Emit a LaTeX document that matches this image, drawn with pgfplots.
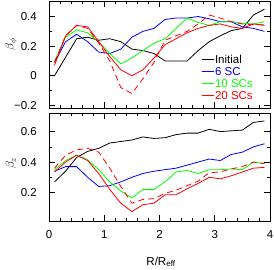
\documentclass[border=0pt]{standalone}
\usepackage{pgfplots}
\pgfplotsset{compat=1.18}
\usepackage{fontspec}
\setmainfont{Liberation Sans}
\newcommand{\lf}{\fontsize{11.5}{12}\selectfont}
\pgfplotsset{
  myax/.style={
    scale only axis, width=221pt, xmin=0, xmax=4,
    anchor=south west,
    xtick={0,1,2,3,4}, minor x tick num=4, minor y tick num=1,
    major tick length=6pt, minor tick length=3pt,
    tick align=inside, tick style={black, line width=0.6pt},
    axis line style={line width=0.8pt},
    /pgf/number format/assume math mode=true,
    tick label style={font=\lf},
    yticklabel style={anchor=east, inner sep=0pt, xshift=-12pt},
    xticklabel style={anchor=north, inner sep=0pt, yshift=-8.5pt},
    label style={font=\lf},
    every axis plot/.append style={line width=0.8pt},
  }
}
\definecolor{cgreen}{RGB}{0,255,0}
\begin{document}
\begin{tikzpicture}
\path[use as bounding box] (0pt,0pt) rectangle (274pt,270pt);
\begin{axis}[myax, at={(49pt,161.7pt)}, height=107.3pt,
  ymin=-0.22, ymax=0.505,
  ytick={-0.2,0,0.2,0.4}, yticklabels={−0.2,0,0.2,0.4},
  xticklabels={},
  ylabel={$\beta_\phi$},
  ylabel style={at={(axis description cs:-0.172,0.6)}, anchor=center},
  legend style={draw=none, fill=none, inner sep=0pt,
    at={(axis description cs:0.688,0.506)}, anchor=north west,
    font=\lf, row sep=1.7pt,
    nodes={inner sep=1pt, text height=8.3pt, text depth=0pt}},
  legend cell align=left,
  legend image code/.code={\draw[#1] (0pt,0pt) -- (12pt,0pt);},
]
\addplot[black] coordinates {(0.02,0.0)(0.1,0.0)(0.3,0.125)(0.5,0.25)(0.7,0.26)(0.9,0.24)(1.1,0.25)(1.3,0.23)(1.5,0.18)(1.7,0.17)(1.9,0.15)(2.1,0.10)(2.3,0.10)(2.5,0.10)(2.7,0.17)(2.9,0.23)(3.1,0.27)(3.3,0.305)(3.5,0.32)(3.7,0.41)(3.9,0.45)};
\addlegendentry{Initial}
\addplot[blue] coordinates {(0.1,0.09)(0.3,0.23)(0.5,0.28)(0.7,0.23)(0.9,0.16)(1.1,0.15)(1.3,0.18)(1.5,0.26)(1.7,0.30)(1.9,0.32)(2.1,0.38)(2.3,0.39)(2.5,0.39)(2.7,0.40)(2.9,0.385)(3.1,0.365)(3.3,0.365)(3.5,0.33)(3.7,0.32)(3.9,0.30)};
\addlegendentry{\textcolor{blue}{6 SC}}
\addplot[cgreen] coordinates {(0.1,0.10)(0.3,0.26)(0.5,0.31)(0.7,0.29)(0.9,0.23)(1.1,0.15)(1.3,0.08)(1.5,0.12)(1.7,0.17)(1.9,0.22)(2.1,0.25)(2.3,0.32)(2.5,0.39)(2.7,0.36)(2.9,0.34)(3.1,0.365)(3.3,0.365)(3.5,0.355)(3.7,0.35)(3.9,0.365)};
\addlegendentry{\textcolor{cgreen}{10 SCs}}
\addplot[red] coordinates {(0.1,0.07)(0.3,0.27)(0.5,0.34)(0.7,0.33)(0.9,0.23)(1.1,0.13)(1.3,0.04)(1.5,0.00)(1.7,0.04)(1.9,0.12)(2.1,0.21)(2.3,0.25)(2.5,0.29)(2.7,0.32)(2.9,0.34)(3.1,0.35)(3.3,0.33)(3.5,0.32)(3.7,0.35)(3.9,0.34)};
\addlegendentry{\textcolor{red}{20 SCs}}
\addplot[red, dash pattern=on 6pt off 4pt] coordinates {(0.1,0.09)(0.3,0.27)(0.5,0.34)(0.7,0.32)(0.9,0.22)(1.1,0.10)(1.3,-0.08)(1.5,-0.12)(1.7,-0.02)(1.9,0.09)(2.1,0.24)(2.3,0.27)(2.5,0.30)(2.7,0.35)(2.9,0.41)(3.1,0.39)(3.3,0.365)(3.5,0.35)(3.7,0.345)(3.9,0.345)};
\end{axis}
\begin{axis}[myax, at={(49pt,48.5pt)}, height=108.2pt,
  ymin=0.01, ymax=0.72,
  ytick={0.2,0.4,0.6},
  xticklabels={0,1,2,3,4},
  ylabel={$\beta_z$},
  ylabel style={at={(axis description cs:-0.172,0.54)}, anchor=center},
  xlabel={R/R\textsubscript{eff}},
  xlabel style={at={(axis description cs:0.507,-0.374)}, anchor=center},
]
\addplot[black] coordinates {(0.1,0.27)(0.3,0.34)(0.5,0.43)(0.7,0.47)(0.9,0.49)(1.1,0.525)(1.3,0.535)(1.5,0.545)(1.7,0.565)(1.9,0.555)(2.1,0.56)(2.3,0.58)(2.5,0.59)(2.7,0.59)(2.9,0.615)(3.1,0.60)(3.3,0.605)(3.5,0.61)(3.7,0.66)(3.9,0.67)};
\addplot[blue] coordinates {(0.1,0.34)(0.3,0.37)(0.5,0.37)(0.7,0.30)(0.9,0.24)(1.1,0.245)(1.3,0.27)(1.5,0.30)(1.7,0.325)(1.9,0.34)(2.1,0.35)(2.3,0.36)(2.5,0.38)(2.7,0.40)(2.9,0.42)(3.1,0.41)(3.3,0.45)(3.5,0.465)(3.7,0.50)(3.9,0.52)};
\addplot[cgreen] coordinates {(0.1,0.35)(0.3,0.41)(0.5,0.445)(0.7,0.415)(0.9,0.35)(1.1,0.27)(1.3,0.21)(1.5,0.165)(1.7,0.22)(1.9,0.22)(2.1,0.27)(2.3,0.335)(2.5,0.345)(2.7,0.325)(2.9,0.35)(3.1,0.35)(3.3,0.355)(3.5,0.35)(3.7,0.40)(3.9,0.39)};
\addplot[red] coordinates {(0.1,0.335)(0.3,0.40)(0.5,0.445)(0.7,0.41)(0.9,0.325)(1.1,0.22)(1.3,0.13)(1.5,0.075)(1.7,0.12)(1.9,0.13)(2.1,0.185)(2.3,0.185)(2.5,0.225)(2.7,0.26)(2.9,0.30)(3.1,0.29)(3.3,0.31)(3.5,0.335)(3.7,0.36)(3.9,0.365)};
\addplot[red, dash pattern=on 6pt off 4pt] coordinates {(0.1,0.36)(0.3,0.445)(0.5,0.48)(0.7,0.49)(0.9,0.465)(1.1,0.36)(1.3,0.24)(1.5,0.13)(1.7,0.155)(1.9,0.16)(2.1,0.195)(2.3,0.215)(2.5,0.245)(2.7,0.275)(2.9,0.33)(3.1,0.335)(3.3,0.355)(3.5,0.37)(3.7,0.40)(3.9,0.39)};
\end{axis}
\end{tikzpicture}
\end{document}
